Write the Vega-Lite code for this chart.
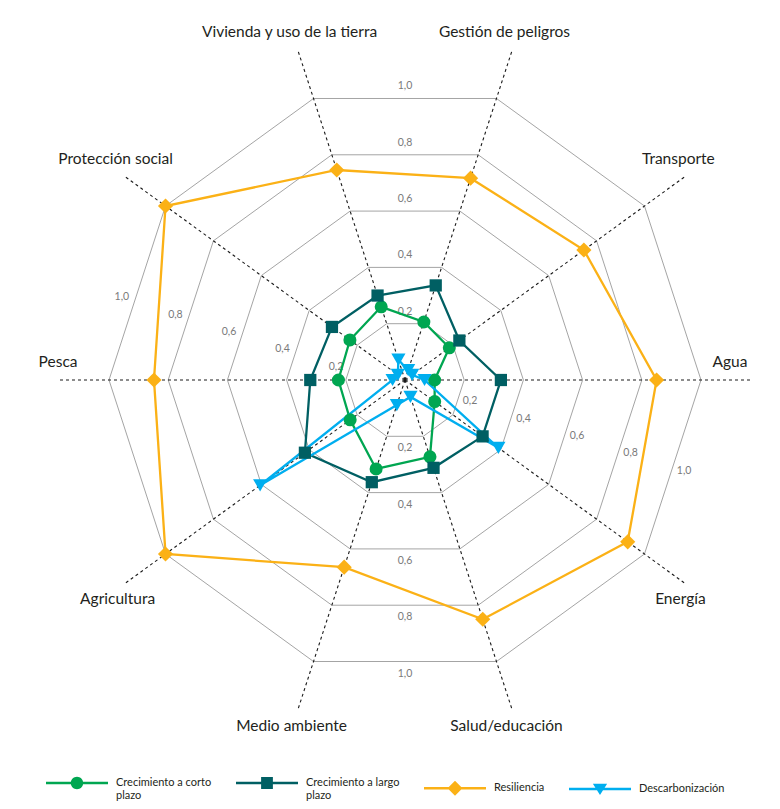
{
  "$schema": "https://vega.github.io/schema/vega-lite/v6.json",
  "width": 780,
  "height": 809,
  "autosize": "none",
  "padding": 0,
  "background": "white",
  "config": {"view": {"stroke": null}, "font": "Lato"},
  "datasets": {
    "scores": [
      {"series": "Crecimiento a corto plazo", "axis": "Gestión de peligros", "value": 0.206},
      {"series": "Crecimiento a corto plazo", "axis": "Transporte", "value": 0.185},
      {"series": "Crecimiento a corto plazo", "axis": "Agua", "value": 0.10},
      {"series": "Crecimiento a corto plazo", "axis": "Energía", "value": 0.124},
      {"series": "Crecimiento a corto plazo", "axis": "Salud/educación", "value": 0.273},
      {"series": "Crecimiento a corto plazo", "axis": "Medio ambiente", "value": 0.316},
      {"series": "Crecimiento a corto plazo", "axis": "Agricultura", "value": 0.229},
      {"series": "Crecimiento a corto plazo", "axis": "Pesca", "value": 0.225},
      {"series": "Crecimiento a corto plazo", "axis": "Protección social", "value": 0.23},
      {"series": "Crecimiento a corto plazo", "axis": "Vivienda y uso de la tierra", "value": 0.26},
      {"series": "Crecimiento a largo plazo", "axis": "Gestión de peligros", "value": 0.336},
      {"series": "Crecimiento a largo plazo", "axis": "Transporte", "value": 0.227},
      {"series": "Crecimiento a largo plazo", "axis": "Agua", "value": 0.324},
      {"series": "Crecimiento a largo plazo", "axis": "Energía", "value": 0.324},
      {"series": "Crecimiento a largo plazo", "axis": "Salud/educación", "value": 0.312},
      {"series": "Crecimiento a largo plazo", "axis": "Medio ambiente", "value": 0.363},
      {"series": "Crecimiento a largo plazo", "axis": "Agricultura", "value": 0.418},
      {"series": "Crecimiento a largo plazo", "axis": "Pesca", "value": 0.32},
      {"series": "Crecimiento a largo plazo", "axis": "Protección social", "value": 0.305},
      {"series": "Crecimiento a largo plazo", "axis": "Vivienda y uso de la tierra", "value": 0.30},
      {"series": "Resiliencia", "axis": "Gestión de peligros", "value": 0.717},
      {"series": "Resiliencia", "axis": "Transporte", "value": 0.747},
      {"series": "Resiliencia", "axis": "Agua", "value": 0.85},
      {"series": "Resiliencia", "axis": "Energía", "value": 0.93},
      {"series": "Resiliencia", "axis": "Salud/educación", "value": 0.85},
      {"series": "Resiliencia", "axis": "Medio ambiente", "value": 0.665},
      {"series": "Resiliencia", "axis": "Agricultura", "value": 1.0},
      {"series": "Resiliencia", "axis": "Pesca", "value": 0.848},
      {"series": "Resiliencia", "axis": "Protección social", "value": 1.0},
      {"series": "Resiliencia", "axis": "Vivienda y uso de la tierra", "value": 0.746},
      {"series": "Descarbonización", "axis": "Gestión de peligros", "value": 0.035},
      {"series": "Descarbonización", "axis": "Transporte", "value": 0.03},
      {"series": "Descarbonización", "axis": "Agua", "value": 0.066},
      {"series": "Descarbonización", "axis": "Energía", "value": 0.39},
      {"series": "Descarbonización", "axis": "Salud/educación", "value": 0.06},
      {"series": "Descarbonización", "axis": "Medio ambiente", "value": 0.089},
      {"series": "Descarbonización", "axis": "Agricultura", "value": 0.605},
      {"series": "Descarbonización", "axis": "Pesca", "value": 0.042},
      {"series": "Descarbonización", "axis": "Protección social", "value": 0.03},
      {"series": "Descarbonización", "axis": "Vivienda y uso de la tierra", "value": 0.072}
    ],
    "axes": [
      {"axis": "Gestión de peligros"},
      {"axis": "Transporte"},
      {"axis": "Agua"},
      {"axis": "Energía"},
      {"axis": "Salud/educación"},
      {"axis": "Medio ambiente"},
      {"axis": "Agricultura"},
      {"axis": "Pesca"},
      {"axis": "Protección social"},
      {"axis": "Vivienda y uso de la tierra"}
    ],
    "levels": [
      {"level": 0.2, "axis": "Gestión de peligros", "v": 1},
      {"level": 0.4, "axis": "Gestión de peligros", "v": 1},
      {"level": 0.6, "axis": "Gestión de peligros", "v": 1},
      {"level": 0.8, "axis": "Gestión de peligros", "v": 1},
      {"level": 1.0, "axis": "Gestión de peligros", "v": 1}
    ]
  },
  "layer": [
    {
      "data": {"name": "levels"},
      "transform": [
        {"impute": "v", "key": "axis", "keyvals": ["Gestión de peligros", "Transporte", "Agua", "Energía", "Salud/educación", "Medio ambiente", "Agricultura", "Pesca", "Protección social", "Vivienda y uso de la tierra"], "groupby": ["level"], "value": 1},
        {"calculate": "indexof(['Gestión de peligros','Transporte','Agua','Energía','Salud/educación','Medio ambiente','Agricultura','Pesca','Protección social','Vivienda y uso de la tierra'], datum.axis)", "as": "k"},
        {"calculate": "(18 + 36 * datum.k) * PI / 180", "as": "a"},
        {"calculate": "datum.level * sin(datum.a)", "as": "x"},
        {"calculate": "datum.level * cos(datum.a)", "as": "y"}
      ],
      "mark": {"type": "line", "interpolate": "linear-closed", "stroke": "#9a9a9a", "strokeWidth": 0.9},
      "encoding": {
        "x": {"field": "x", "type": "quantitative", "scale": {"domain": [-1.36824, 1.26689], "nice": false, "zero": false}, "axis": null},
        "y": {"field": "y", "type": "quantitative", "scale": {"domain": [-1.44932, 1.28378], "nice": false, "zero": false}, "axis": null},
        "detail": {"field": "level", "type": "nominal"},
        "order": {"field": "k", "type": "quantitative"}
      }
    },
    {
      "data": {"name": "axes"},
      "transform": [
        {"calculate": "indexof(['Gestión de peligros','Transporte','Agua','Energía','Salud/educación','Medio ambiente','Agricultura','Pesca','Protección social','Vivienda y uso de la tierra'], datum.axis)", "as": "k"},
        {"calculate": "(18 + 36 * datum.k) * PI / 180", "as": "a"},
        {"calculate": "1.175 * sin(datum.a)", "as": "xe"},
        {"calculate": "1.175 * cos(datum.a)", "as": "ye"},
        {"calculate": "0", "as": "zero"}
      ],
      "mark": {"type": "rule", "strokeDash": [3, 3], "stroke": "#1a1a1a", "strokeWidth": 1.1},
      "encoding": {
        "x": {"field": "zero", "type": "quantitative", "scale": {"domain": [-1.36824, 1.26689], "nice": false, "zero": false}, "axis": null},
        "y": {"field": "zero", "type": "quantitative", "scale": {"domain": [-1.44932, 1.28378], "nice": false, "zero": false}, "axis": null},
        "x2": {"field": "xe"},
        "y2": {"field": "ye"}
      }
    },
    {
      "data": {"name": "levels"},
      "transform": [
        {"calculate": "replace(format(datum.level, '.1f'), '.', ',')", "as": "lab"},
        {"calculate": "datum.level * 0.95106 + 0.0405", "as": "r"},
        {"calculate": "0", "as": "x"},
        {"calculate": "datum.r", "as": "y"}
      ],
      "mark": {"type": "text", "font": "Lato", "fontSize": 10.5, "fill": "#7a7a7a", "align": "center", "baseline": "middle"},
      "encoding": {
        "x": {"field": "x", "type": "quantitative", "axis": null},
        "y": {"field": "y", "type": "quantitative", "axis": null},
        "text": {"field": "lab"}
      }
    },
    {
      "data": {"name": "levels"},
      "transform": [
        {"calculate": "replace(format(datum.level, '.1f'), '.', ',')", "as": "lab"},
        {"calculate": "datum.level * 0.95106 + 0.0405", "as": "r"},
        {"calculate": "datum.r * sin(-72 * PI / 180)", "as": "x"},
        {"calculate": "datum.r * cos(-72 * PI / 180)", "as": "y"}
      ],
      "mark": {"type": "text", "font": "Lato", "fontSize": 10.5, "fill": "#7a7a7a", "align": "center", "baseline": "middle", "dx": -4, "dy": 8},
      "encoding": {
        "x": {"field": "x", "type": "quantitative", "axis": null},
        "y": {"field": "y", "type": "quantitative", "axis": null},
        "text": {"field": "lab"}
      }
    },
    {
      "data": {"name": "levels"},
      "transform": [
        {"calculate": "replace(format(datum.level, '.1f'), '.', ',')", "as": "lab"},
        {"calculate": "datum.level * 0.95106 + 0.0405", "as": "r"},
        {"calculate": "datum.r * sin(108 * PI / 180)", "as": "x"},
        {"calculate": "datum.r * cos(108 * PI / 180)", "as": "y"}
      ],
      "mark": {"type": "text", "font": "Lato", "fontSize": 10.5, "fill": "#7a7a7a", "align": "center", "baseline": "middle"},
      "encoding": {
        "x": {"field": "x", "type": "quantitative", "axis": null},
        "y": {"field": "y", "type": "quantitative", "axis": null},
        "text": {"field": "lab"}
      }
    },
    {
      "data": {"name": "levels"},
      "transform": [
        {"calculate": "replace(format(datum.level, '.1f'), '.', ',')", "as": "lab"},
        {"calculate": "datum.level * 0.95106 + 0.0405", "as": "r"},
        {"calculate": "0", "as": "x"},
        {"calculate": "-datum.r", "as": "y"}
      ],
      "mark": {"type": "text", "font": "Lato", "fontSize": 10.5, "fill": "#7a7a7a", "align": "center", "baseline": "middle"},
      "encoding": {
        "x": {"field": "x", "type": "quantitative", "axis": null},
        "y": {"field": "y", "type": "quantitative", "axis": null},
        "text": {"field": "lab"}
      }
    },
    {
      "data": {"name": "axes"},
      "transform": [
        {"calculate": "indexof(['Gestión de peligros','Transporte','Agua','Energía','Salud/educación','Medio ambiente','Agricultura','Pesca','Protección social','Vivienda y uso de la tierra'], datum.axis)", "as": "k"},
        {"calculate": "(18 + 36 * datum.k) * PI / 180", "as": "a"},
        {"filter": "cos(datum.a) > 0.1"},
        {"calculate": "1.175 * sin(datum.a)", "as": "x"},
        {"calculate": "1.175 * cos(datum.a)", "as": "y"}
      ],
      "mark": {"type": "text", "font": "Lato", "fontSize": 15.5, "fill": "#231f20", "align": "center", "baseline": "middle", "dx": -8, "dy": -17},
      "encoding": {
        "x": {"field": "x", "type": "quantitative", "axis": null},
        "y": {"field": "y", "type": "quantitative", "axis": null},
        "text": {"field": "axis"}
      }
    },
    {
      "data": {"name": "axes"},
      "transform": [
        {"calculate": "indexof(['Gestión de peligros','Transporte','Agua','Energía','Salud/educación','Medio ambiente','Agricultura','Pesca','Protección social','Vivienda y uso de la tierra'], datum.axis)", "as": "k"},
        {"calculate": "(18 + 36 * datum.k) * PI / 180", "as": "a"},
        {"filter": "abs(cos(datum.a)) <= 0.1"},
        {"calculate": "1.135 * sin(datum.a)", "as": "x"},
        {"calculate": "0", "as": "y"}
      ],
      "mark": {"type": "text", "font": "Lato", "fontSize": 15.5, "fill": "#231f20", "align": "center", "baseline": "middle", "dx": -11, "dy": -18},
      "encoding": {
        "x": {"field": "x", "type": "quantitative", "axis": null},
        "y": {"field": "y", "type": "quantitative", "axis": null},
        "text": {"field": "axis"}
      }
    },
    {
      "data": {"name": "axes"},
      "transform": [
        {"calculate": "indexof(['Gestión de peligros','Transporte','Agua','Energía','Salud/educación','Medio ambiente','Agricultura','Pesca','Protección social','Vivienda y uso de la tierra'], datum.axis)", "as": "k"},
        {"calculate": "(18 + 36 * datum.k) * PI / 180", "as": "a"},
        {"filter": "cos(datum.a) < -0.1"},
        {"calculate": "1.175 * sin(datum.a)", "as": "x"},
        {"calculate": "1.175 * cos(datum.a)", "as": "y"}
      ],
      "mark": {"type": "text", "font": "Lato", "fontSize": 15.5, "fill": "#231f20", "align": "center", "baseline": "middle", "dx": -6, "dy": 15},
      "encoding": {
        "x": {"field": "x", "type": "quantitative", "axis": null},
        "y": {"field": "y", "type": "quantitative", "axis": null},
        "text": {"field": "axis"}
      }
    },
    {
      "data": {"name": "scores"},
      "transform": [
        {"calculate": "indexof(['Gestión de peligros','Transporte','Agua','Energía','Salud/educación','Medio ambiente','Agricultura','Pesca','Protección social','Vivienda y uso de la tierra'], datum.axis)", "as": "k"},
        {"calculate": "(18 + 36 * datum.k) * PI / 180", "as": "a"},
        {"calculate": "datum.value * sin(datum.a)", "as": "x"},
        {"calculate": "datum.value * cos(datum.a)", "as": "y"}
      ],
      "mark": {"type": "line", "interpolate": "linear-closed", "strokeWidth": 2.3},
      "encoding": {
        "x": {"field": "x", "type": "quantitative", "axis": null},
        "y": {"field": "y", "type": "quantitative", "axis": null},
        "order": {"field": "k", "type": "quantitative"},
        "color": {
          "field": "series",
          "type": "nominal",
          "scale": {
            "domain": ["Crecimiento a corto plazo", "Crecimiento a largo plazo", "Resiliencia", "Descarbonización"],
            "range": ["#00a651", "#005f63", "#fbb116", "#00aeef"]
          },
          "legend": {
            "title": null,
            "orient": "none",
            "legendX": 46,
            "legendY": 752,
            "direction": "horizontal",
            "columns": 4,
            "columnPadding": 24,
            "symbolSize": 3844,
            "symbolStrokeWidth": 0,
            "labelFont": "Lato",
            "labelFontSize": 11,
            "labelColor": "#231f20",
            "labelOffset": 8,
            "labelLimit": 200,
            "labelBaseline": "middle",
            "labelExpr": "datum.label == 'Crecimiento a corto plazo' ? ['Crecimiento a corto', 'plazo'] : datum.label == 'Crecimiento a largo plazo' ? ['Crecimiento a largo', 'plazo'] : datum.label",
            "encode": {
              "symbols": {
                "update": {
                  "shape": {"signal": "datum.value == 'Crecimiento a corto plazo' ? 'M-1,-0.04L1,-0.04L1,0.04L-1,0.04ZM-0.2,0A0.2,0.2,0,1,1,0.2,0A0.2,0.2,0,1,1,-0.2,0Z' : datum.value == 'Crecimiento a largo plazo' ? 'M-1,-0.04L1,-0.04L1,0.04L-1,0.04ZM-0.19,-0.19L0.19,-0.19L0.19,0.19L-0.19,0.19Z' : datum.value == 'Resiliencia' ? 'M-1,-0.04L1,-0.04L1,0.04L-1,0.04ZM-0.24,0L0,-0.24L0.24,0L0,0.24Z' : 'M-1,-0.04L1,-0.04L1,0.04L-1,0.04ZM-0.23,-0.17L0.23,-0.17L0,0.2Z'"},
                  "fill": {"scale": "color", "field": "value"},
                  "fillOpacity": {"value": 1},
                  "strokeWidth": {"value": 0},
                  "size": {"value": 3844},
                  "opacity": {"value": 1}
                }
              }
            }
          }
        }
      }
    },
    {
      "data": {"name": "scores"},
      "transform": [
        {"filter": "datum.series == 'Crecimiento a corto plazo'"},
        {"calculate": "indexof(['Gestión de peligros','Transporte','Agua','Energía','Salud/educación','Medio ambiente','Agricultura','Pesca','Protección social','Vivienda y uso de la tierra'], datum.axis)", "as": "k"},
        {"calculate": "(18 + 36 * datum.k) * PI / 180", "as": "a"},
        {"calculate": "datum.value * sin(datum.a)", "as": "x"},
        {"calculate": "datum.value * cos(datum.a)", "as": "y"}
      ],
      "mark": {"type": "point", "shape": "circle", "filled": true, "opacity": 1, "size": 170, "color": "#00a651"},
      "encoding": {
        "x": {"field": "x", "type": "quantitative", "axis": null},
        "y": {"field": "y", "type": "quantitative", "axis": null}
      }
    },
    {
      "data": {"name": "scores"},
      "transform": [
        {"filter": "datum.series == 'Crecimiento a largo plazo'"},
        {"calculate": "indexof(['Gestión de peligros','Transporte','Agua','Energía','Salud/educación','Medio ambiente','Agricultura','Pesca','Protección social','Vivienda y uso de la tierra'], datum.axis)", "as": "k"},
        {"calculate": "(18 + 36 * datum.k) * PI / 180", "as": "a"},
        {"calculate": "datum.value * sin(datum.a)", "as": "x"},
        {"calculate": "datum.value * cos(datum.a)", "as": "y"}
      ],
      "mark": {"type": "point", "shape": "square", "filled": true, "opacity": 1, "size": 150, "color": "#005f63"},
      "encoding": {
        "x": {"field": "x", "type": "quantitative", "axis": null},
        "y": {"field": "y", "type": "quantitative", "axis": null}
      }
    },
    {
      "data": {"name": "scores"},
      "transform": [
        {"filter": "datum.series == 'Resiliencia'"},
        {"calculate": "indexof(['Gestión de peligros','Transporte','Agua','Energía','Salud/educación','Medio ambiente','Agricultura','Pesca','Protección social','Vivienda y uso de la tierra'], datum.axis)", "as": "k"},
        {"calculate": "(18 + 36 * datum.k) * PI / 180", "as": "a"},
        {"calculate": "datum.value * sin(datum.a)", "as": "x"},
        {"calculate": "datum.value * cos(datum.a)", "as": "y"}
      ],
      "mark": {"type": "point", "shape": "diamond", "filled": true, "opacity": 1, "size": 230, "color": "#fbb116"},
      "encoding": {
        "x": {"field": "x", "type": "quantitative", "axis": null},
        "y": {"field": "y", "type": "quantitative", "axis": null}
      }
    },
    {
      "data": {"name": "scores"},
      "transform": [
        {"filter": "datum.series == 'Descarbonización'"},
        {"calculate": "indexof(['Gestión de peligros','Transporte','Agua','Energía','Salud/educación','Medio ambiente','Agricultura','Pesca','Protección social','Vivienda y uso de la tierra'], datum.axis)", "as": "k"},
        {"calculate": "(18 + 36 * datum.k) * PI / 180", "as": "a"},
        {"calculate": "datum.value * sin(datum.a)", "as": "x"},
        {"calculate": "datum.value * cos(datum.a)", "as": "y"}
      ],
      "mark": {"type": "point", "shape": "triangle-down", "filled": true, "opacity": 1, "size": 200, "color": "#00aeef"},
      "encoding": {
        "x": {"field": "x", "type": "quantitative", "axis": null},
        "y": {"field": "y", "type": "quantitative", "axis": null}
      }
    }
  ]
}
